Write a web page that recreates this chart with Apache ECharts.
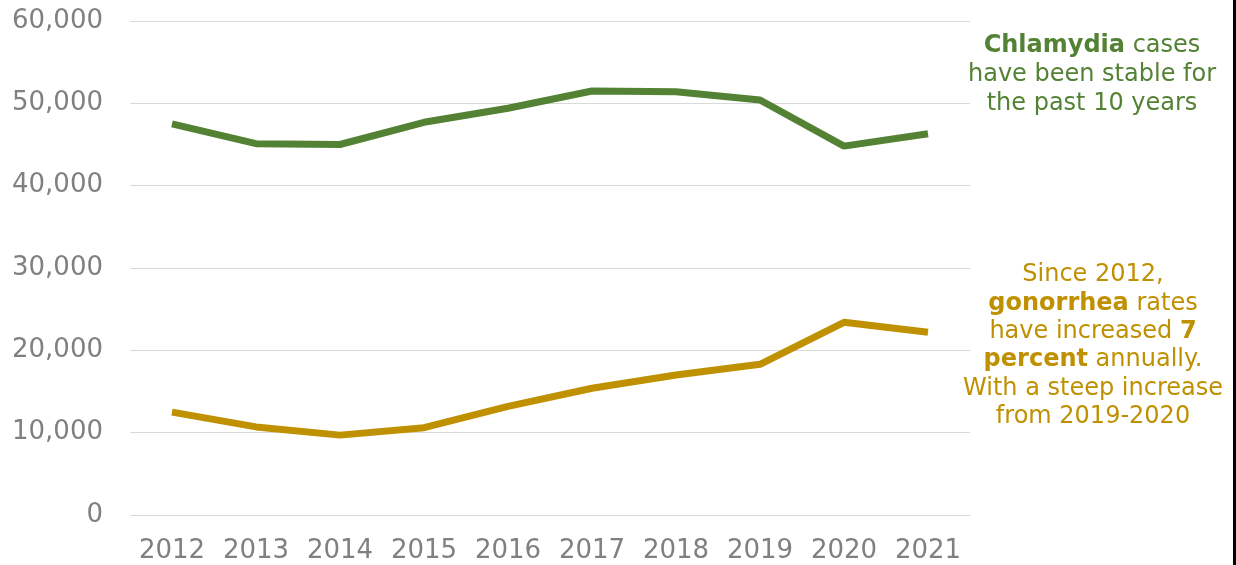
<!DOCTYPE html>
<html>
<head>
<meta charset="utf-8">
<script src="https://cdn.jsdelivr.net/npm/echarts@6/dist/echarts.min.js"></script>
<style>
  html, body { margin: 0; padding: 0; background: #fff; }
  #chart { width: 1236px; height: 565px; }
</style>
</head>
<body>
<div id="chart"></div>
<script>
  var years = ['2012', '2013', '2014', '2015', '2016', '2017', '2018', '2019', '2020', '2021'];
  var chlamydia = [47500, 45100, 45000, 47700, 49400, 51500, 51400, 50400, 44800, 46300];
  var gonorrhea = [12500, 10700, 9700, 10600, 13200, 15400, 17000, 18300, 23400, 22200];

  // annotation lines, {b|...} = bold part
  var greenNote = ['{b|Chlamydia} cases', 'have been stable for', 'the past 10 years'];
  var goldNote = ['Since 2012,', '{b|gonorrhea} rates', 'have increased {b|7}',
                  '{b|percent} annually.', 'With a steep increase', 'from 2019-2020'];

  var green = '#548235';
  var gold = '#BF9000';
  var font = '"DejaVu Sans", Verdana, sans-serif';

  function noteLines(lines, cx, y0, step, color) {
    return lines.map(function (t, i) {
      return {
        type: 'text',
        x: cx,
        y: y0 + i * step,
        style: {
          text: t,
          fill: color,
          font: '24px ' + font,
          align: 'center',
          verticalAlign: 'middle',
          rich: {
            b: { fontWeight: 'bold', fontSize: 24, fontFamily: font, fill: color }
          }
        }
      };
    });
  }

  var myChart = echarts.init(document.getElementById('chart'));
  var option = {
    backgroundColor: '#fff',
    animation: false,
    grid: { left: 130, right: 266, top: 21, bottom: 50 },
    xAxis: {
      type: 'category',
      data: years,
      boundaryGap: true,
      axisLine: { show: false },
      axisTick: { show: false },
      axisLabel: { interval: 0, color: '#808080', fontSize: 26, fontFamily: font, margin: 23 }
    },
    yAxis: {
      type: 'value',
      min: 0,
      max: 60000,
      interval: 10000,
      axisLine: { show: false },
      axisTick: { show: false },
      axisLabel: {
        color: '#808080', fontSize: 26, fontFamily: font, margin: 27,
        padding: [3, 0, 0, 0],
        formatter: function (v) { return v.toLocaleString('en-US'); }
      },
      splitLine: { lineStyle: { color: '#d9d9d9', width: 1 } }
    },
    series: [
      {
        name: 'Chlamydia',
        type: 'line',
        data: chlamydia,
        symbol: 'none',
        lineStyle: { color: green, width: 7 }
      },
      {
        name: 'Gonorrhea',
        type: 'line',
        data: gonorrhea,
        symbol: 'none',
        lineStyle: { color: gold, width: 7 }
      }
    ],
    graphic: noteLines(greenNote, 1092, 46, 29, green)
      .concat(noteLines(goldNote, 1093, 275, 28.4, gold))
      .concat([{
        type: 'rect',
        right: 0,
        top: 0,
        shape: { width: 3, height: 565 },
        style: { fill: '#000' }
      }])
  };
  myChart.setOption(option);
</script>
</body>
</html>
